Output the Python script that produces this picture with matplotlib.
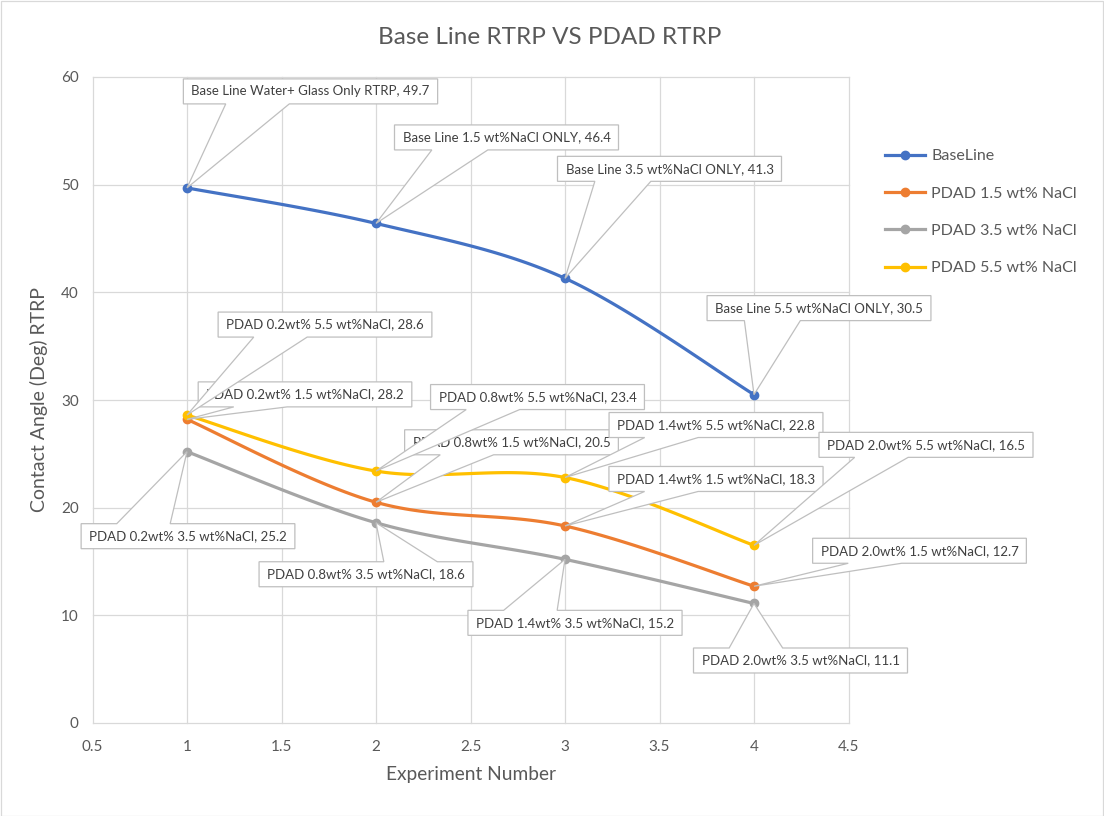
import matplotlib
matplotlib.use("Agg")
import matplotlib.pyplot as plt
import numpy as np
from matplotlib.patches import Polygon, Rectangle
from matplotlib.transforms import IdentityTransform

plt.rcParams['font.family'] = ['Lato', 'DejaVu Sans']

# ---- data ----
experiments = [1, 2, 3, 4]
series_names = ["BaseLine", "PDAD 1.5 wt% NaCl", "PDAD 3.5 wt% NaCl", "PDAD 5.5 wt% NaCl"]
baseline = [49.7, 46.4, 41.3, 30.5]
pdad_15 = [28.2, 20.5, 18.3, 12.7]
pdad_35 = [25.2, 18.6, 15.2, 11.1]
pdad_55 = [28.6, 23.4, 22.8, 16.5]

baseline_tags = ["Base Line Water+ Glass Only RTRP", "Base Line 1.5 wt%NaCl ONLY",
                 "Base Line 3.5 wt%NaCl ONLY", "Base Line 5.5 wt%NaCl ONLY"]
pdad_15_tags = ["PDAD 0.2wt% 1.5 wt%NaCl", "PDAD 0.8wt% 1.5 wt%NaCl",
                "PDAD 1.4wt% 1.5 wt%NaCl", "PDAD 2.0wt% 1.5 wt%NaCl"]
pdad_35_tags = ["PDAD 0.2wt% 3.5 wt%NaCl", "PDAD 0.8wt% 3.5 wt%NaCl",
                "PDAD 1.4wt% 3.5 wt%NaCl", "PDAD 2.0wt% 3.5 wt%NaCl"]
pdad_55_tags = ["PDAD 0.2wt% 5.5 wt%NaCl", "PDAD 0.8wt% 5.5 wt%NaCl",
                "PDAD 1.4wt% 5.5 wt%NaCl", "PDAD 2.0wt% 5.5 wt%NaCl"]

# callout box centre offsets from each point, in pixels (right, up)
baseline_off = [(123.5, 96.5), (130.5, 86), (104.5, 109.5), (65, 86.5)]
pdad_15_off = [(118, 25), (135.5, 60), (151, 47), (165.5, 35.5)]
pdad_35_off = [(1, -84.5), (-10, -51.5), (10, -63.5), (46.5, -57)]
pdad_55_off = [(138, 90.5), (161.5, 74), (151, 52.5), (172, 100.5)]

colors = ["#4472C4", "#ED7D31", "#A5A5A5", "#FFC000"]
TXT = "#595959"
GRID = "#D9D9D9"
BOX_EDGE = "#BFBFBF"

W, H = 1104, 816
fig = plt.figure(figsize=(W / 100, H / 100), dpi=100)
ax = fig.add_axes([92.5 / W, 93 / H, 756 / W, 646 / H])
ax.set_xlim(0.5, 4.5)
ax.set_ylim(0, 60)
ax.set_xticks(np.arange(0.5, 4.51, 0.5))
ax.set_xticklabels(["0.5", "1", "1.5", "2", "2.5", "3", "3.5", "4", "4.5"])
ax.set_yticks(np.arange(0, 61, 10))
for s in ax.spines.values():
    s.set_visible(False)
ax.grid(True, color=GRID, lw=0.9)
ax.set_axisbelow(True)
ax.tick_params(length=0, labelsize=11, labelcolor=TXT, pad=10)
ax.tick_params(axis='x', pad=12)
for gl in ax.get_xgridlines() + ax.get_ygridlines():
    gl.set_clip_on(False)


def smooth(xs, ys, n=40):
    """Cubic Bezier smoothing through the points (Catmull-Rom control points)."""
    xs = np.asarray(xs, float)
    ys = np.asarray(ys, float)
    px, py = [xs[0]], [ys[0]]
    m = len(xs)
    for i in range(m - 1):
        i0 = max(i - 1, 0)
        i3 = min(i + 2, m - 1)
        c1 = (xs[i] + (xs[i + 1] - xs[i0]) / 6, ys[i] + (ys[i + 1] - ys[i0]) / 6)
        c2 = (xs[i + 1] - (xs[i3] - xs[i]) / 6, ys[i + 1] - (ys[i3] - ys[i]) / 6)
        t = np.linspace(0, 1, n)[1:]
        bx = (1 - t) ** 3 * xs[i] + 3 * (1 - t) ** 2 * t * c1[0] + 3 * (1 - t) * t ** 2 * c2[0] + t ** 3 * xs[i + 1]
        by = (1 - t) ** 3 * ys[i] + 3 * (1 - t) ** 2 * t * c1[1] + 3 * (1 - t) * t ** 2 * c2[1] + t ** 3 * ys[i + 1]
        px.extend(bx)
        py.extend(by)
    return np.array(px), np.array(py)


all_series = [baseline, pdad_15, pdad_35, pdad_55]
all_tags = [baseline_tags, pdad_15_tags, pdad_35_tags, pdad_55_tags]
all_offs = [baseline_off, pdad_15_off, pdad_35_off, pdad_55_off]

handles = []
for vals, col, name in zip(all_series, colors, series_names):
    sx, sy = smooth(experiments, vals)
    ax.plot(sx, sy, color=col, lw=2.3, solid_capstyle='round', zorder=3)
    ax.plot(experiments, vals, ls='none', marker='o', ms=6, color=col, zorder=4)
    h, = ax.plot([], [], color=col, lw=2.3, marker='o', ms=6)
    handles.append(h)

fig.text(550 / W, 1 - 38 / H, "Base Line RTRP VS PDAD RTRP", fontsize=17.5,
         color=TXT, ha='center', va='center')
ax.set_xlabel("Experiment Number", fontsize=13.8, color=TXT, labelpad=9)
ax.set_ylabel("Contact Angle (Deg) RTRP", fontsize=14, color=TXT, labelpad=9)

fig.legend(handles, series_names, loc='upper left',
           bbox_to_anchor=(885 / W, (H - 149) / H), frameon=False,
           fontsize=11.5, labelcolor=TXT, handlelength=2.5, handletextpad=0.4,
           labelspacing=1.45, borderpad=0, borderaxespad=0)

# outer chart border
fig.add_artist(Rectangle((0.5 / W, 0.5 / H), 1 - 1.5 / W, 1 - 1.5 / H,
                         transform=fig.transFigure, fill=False, ec=GRID, lw=0.9))

# ---- data labels as wedge callouts ----
fig.canvas.draw()
renderer = fig.canvas.get_renderer()
PADX = 8
z = 10
for vals, tags, offs in zip(all_series, all_tags, all_offs):
    for xv, yv, tag, (ox, oy) in zip(experiments, vals, tags, offs):
        tx, ty = ax.transData.transform((xv, yv))
        cx, cy = tx + ox, ty + oy
        t = fig.text(cx, cy, f"{tag}, {yv:g}", transform=IdentityTransform(),
                     ha='center', va='center', fontsize=9.5, color="#404040",
                     zorder=z + 1)
        bb = t.get_window_extent(renderer)
        w = bb.width + 2 * PADX
        h = 25
        x0, x1 = cx - w / 2, cx + w / 2
        y0, y1 = cy - h / 2, cy + h / 2
        dxn = (tx - cx) / w
        dyn = (ty - cy) / h
        if abs(dyn) >= abs(dxn):
            if tx < cx:
                b1, b2 = x0 + w / 6, x0 + 5 * w / 12
            else:
                b1, b2 = x0 + 7 * w / 12, x0 + 5 * w / 6
            if ty < cy:
                verts = [(x0, y1), (x0, y0), (b1, y0), (tx, ty), (b2, y0), (x1, y0), (x1, y1)]
            else:
                verts = [(x0, y0), (x1, y0), (x1, y1), (b2, y1), (tx, ty), (b1, y1), (x0, y1)]
        else:
            if ty > cy:
                b1, b2 = y1 - h / 6, y1 - 5 * h / 12
            else:
                b1, b2 = y1 - 7 * h / 12, y1 - 5 * h / 6
            if tx < cx:
                verts = [(x0, y1), (x0, b1), (tx, ty), (x0, b2), (x0, y0), (x1, y0), (x1, y1)]
            else:
                verts = [(x0, y1), (x0, y0), (x1, y0), (x1, b2), (tx, ty), (x1, b1), (x1, y1)]
        fig.add_artist(Polygon(verts, closed=True, transform=IdentityTransform(),
                               fc='white', ec=BOX_EDGE, lw=0.9, zorder=z))
        z += 2

fig.savefig("out.png", dpi=100)
